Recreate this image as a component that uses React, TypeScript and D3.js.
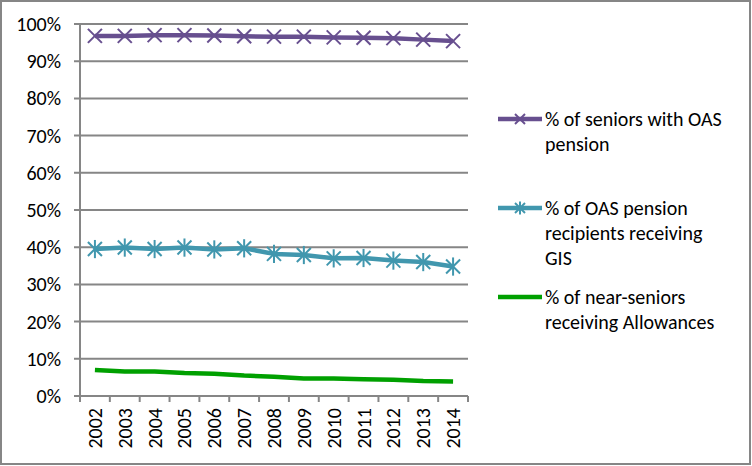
import React from "react";
import * as d3 from "d3";

const years = ["2002","2003","2004","2005","2006","2007","2008","2009","2010","2011","2012","2013","2014"];
const oas = [96.8, 96.8, 97.0, 97.0, 96.9, 96.7, 96.6, 96.6, 96.4, 96.3, 96.2, 95.8, 95.4];
const gis = [39.5, 39.9, 39.5, 39.9, 39.4, 39.7, 38.2, 37.9, 37.0, 37.1, 36.4, 36.0, 34.8];
const allow = [7.0, 6.6, 6.6, 6.2, 6.0, 5.5, 5.2, 4.7, 4.7, 4.5, 4.4, 4.0, 3.9];
const yTicks = [0, 10, 20, 30, 40, 50, 60, 70, 80, 90, 100];
const legendLabels = [
  ["% of seniors with OAS", "pension"],
  ["% of OAS pension", "recipients receiving", "GIS"],
  ["% of near-seniors", "receiving Allowances"],
];

const W = 752, H = 466;
const left = 80, right = 468, top = 24, bottom = 396;
const font = "Carlito, Calibri, Lato, 'Open Sans', sans-serif";

const PURPLE = "#674F8F";
const TEAL = "#4197AE";
const GREEN = "#00A000";
const GRID = "#868686";

export default function App() {
  const x = d3.scaleBand().domain(years).range([left, right]);
  const y = d3.scaleLinear().domain([0, 100]).range([bottom, top]);
  const cx = (i: number) => (x(years[i]) as number) + x.bandwidth() / 2;
  const line = d3.line<number>().x((_, i) => cx(i)).y((d) => y(d));

  const xMark = (px: number, py: number, s: number, color: string, key: string) => (
    <g key={key} stroke={color} strokeWidth={2}>
      <line x1={px - s} y1={py - s} x2={px + s} y2={py + s} />
      <line x1={px - s} y1={py + s} x2={px + s} y2={py - s} />
    </g>
  );
  const starMark = (px: number, py: number, s: number, color: string, key: string) => (
    <g key={key} stroke={color} strokeWidth={2}>
      <line x1={px - s} y1={py - s} x2={px + s} y2={py + s} />
      <line x1={px - s} y1={py + s} x2={px + s} y2={py - s} />
      <line x1={px} y1={py - s * 1.3} x2={px} y2={py + s * 1.3} />
    </g>
  );

  const legendY = [119, 208, 297];
  const colors = [PURPLE, TEAL, GREEN];

  return (
    <div style={{ position: "absolute", left: 0, top: 0 }}>
      <svg width={W} height={H} style={{ display: "block" }}>
        <rect x={0} y={0} width={W} height={H} fill="#fff" />
        <rect x={1} y={1} width={W - 3} height={H - 3} fill="none" stroke={GRID} strokeWidth={2} />
        {yTicks.map((t) => (
          <g key={t}>
            <line x1={left - 6} x2={right} y1={y(t)} y2={y(t)} stroke={GRID} strokeWidth={2} />
            <text x={61} y={y(t)} dy="0.35em" textAnchor="end" fontFamily={font} fontSize={20} fill="#000">
              {t}%
            </text>
          </g>
        ))}
        <line x1={left} x2={left} y1={top} y2={bottom} stroke={GRID} strokeWidth={2} />
        {d3.range(years.length + 1).map((i) => {
          const px = left + i * x.bandwidth();
          return <line key={i} x1={px} x2={px} y1={bottom} y2={bottom + 6} stroke={GRID} strokeWidth={2} />;
        })}
        {years.map((yr, i) => (
          <text
            key={yr}
            transform={`translate(${cx(i)},${bottom + 12}) rotate(-90)`}
            textAnchor="end"
            dy="0.35em"
            fontFamily={font}
            fontSize={20}
            fill="#000"
          >
            {yr}
          </text>
        ))}
        <path d={line(allow) || ""} fill="none" stroke={GREEN} strokeWidth={4.5} strokeLinejoin="round" />
        <path d={line(gis) || ""} fill="none" stroke={TEAL} strokeWidth={4.5} strokeLinejoin="round" />
        {gis.map((v, i) => starMark(cx(i), y(v), 7, TEAL, "g" + i))}
        <path d={line(oas) || ""} fill="none" stroke={PURPLE} strokeWidth={4.5} strokeLinejoin="round" />
        {oas.map((v, i) => xMark(cx(i), y(v), 7, PURPLE, "o" + i))}
        {legendLabels.map((lines, k) => (
          <g key={k}>
            <line x1={498} x2={542} y1={legendY[k]} y2={legendY[k]} stroke={colors[k]} strokeWidth={4.5} />
            {k === 0 && xMark(520, legendY[k], 5, PURPLE, "lx")}
            {k === 1 && starMark(520, legendY[k], 5, TEAL, "ls")}
            {lines.map((s, j) => (
              <text key={j} x={545} y={legendY[k] + j * 25} dy="0.35em" fontFamily={font} fontSize={20} fill="#000">
                {s}
              </text>
            ))}
          </g>
        ))}
      </svg>
    </div>
  );
}
